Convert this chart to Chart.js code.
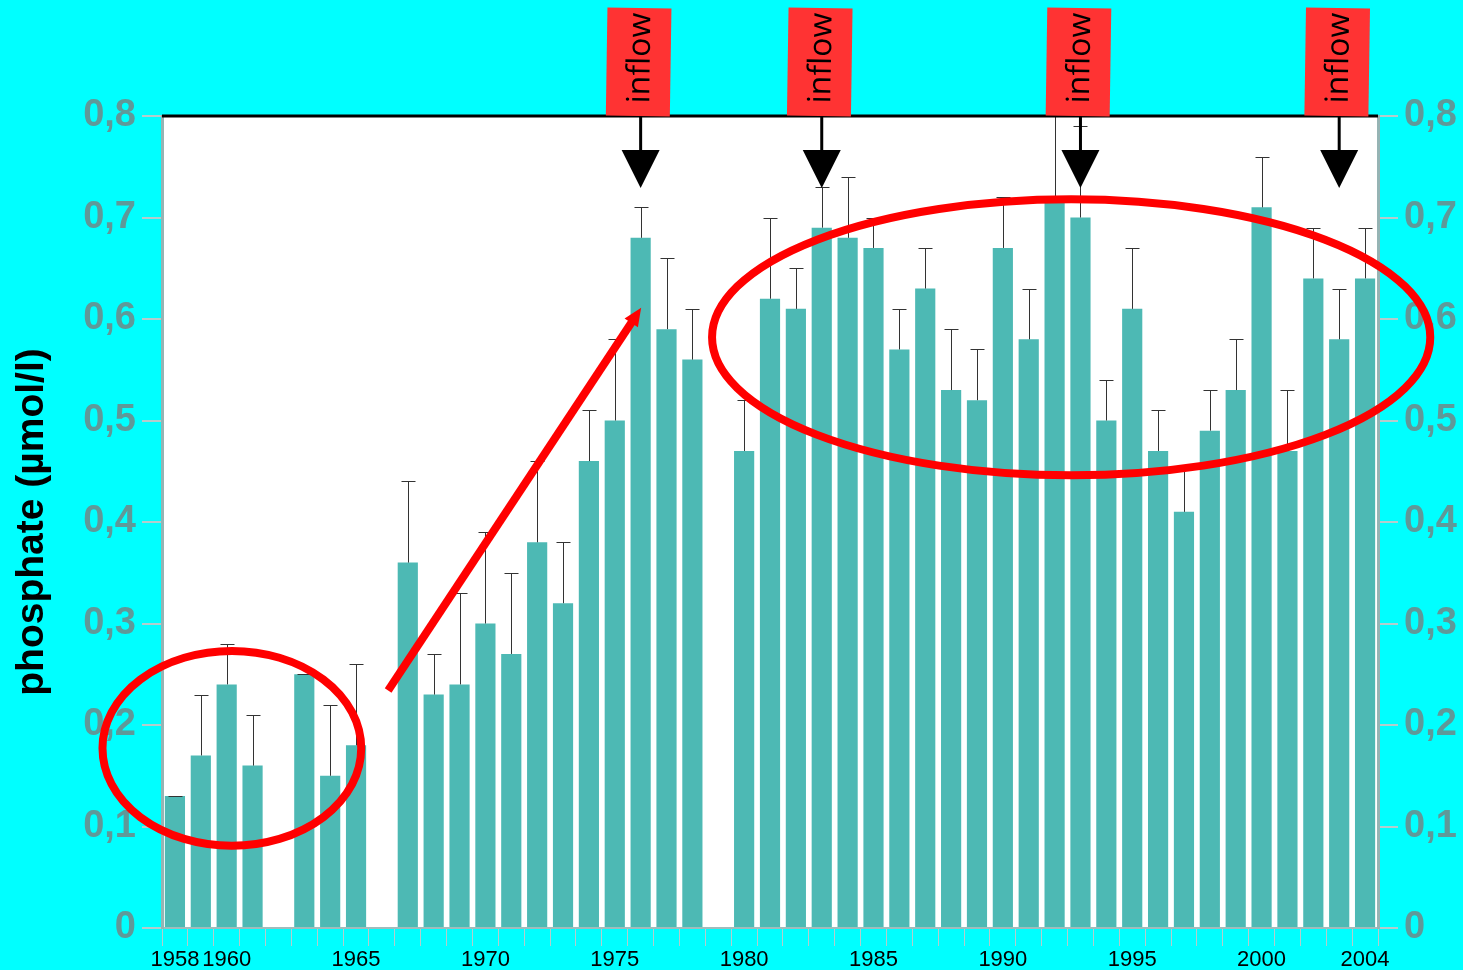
<!DOCTYPE html>
<html>
<head>
<meta charset="utf-8">
<script src="https://cdn.jsdelivr.net/npm/chart.js@4.4.0/dist/chart.umd.min.js"></script>
<style>
  html, body { margin: 0; padding: 0; background: #00ffff; }
  #wrap { width: 1463px; height: 970px; position: relative; }
</style>
</head>
<body>
<div id="wrap"><canvas id="phosphateChart"></canvas></div>
<script>
// yearly means, 1958 - 2004 (null = no data)
const years = [
  "1958", "1959", "1960", "1961", "1962", "1963", "1964", "1965", "1966", "1967",
  "1968", "1969", "1970", "1971", "1972", "1973", "1974", "1975", "1976", "1977",
  "1978", "1979", "1980", "1981", "1982", "1983", "1984", "1985", "1986", "1987",
  "1988", "1989", "1990", "1991", "1992", "1993", "1994", "1995", "1996", "1997",
  "1998", "1999", "2000", "2001", "2002", "2003", "2004",
];
const phosphate = [
  0.13, 0.17, 0.24, 0.16, null, 0.25, 0.15, 0.18, null, 0.36,
  0.23, 0.24, 0.30, 0.27, 0.38, 0.32, 0.46, 0.50, 0.68, 0.59,
  0.56, null, 0.47, 0.62, 0.61, 0.69, 0.68, 0.67, 0.57, 0.63,
  0.53, 0.52, 0.67, 0.58, 0.715, 0.70, 0.50, 0.61, 0.47, 0.41,
  0.49, 0.53, 0.71, 0.47, 0.64, 0.58, 0.64,
];
// upper end of the error bar
const errorTop = [
  0.13, 0.23, 0.28, 0.21, null, 0.25, 0.22, 0.26, null, 0.44,
  0.27, 0.33, 0.39, 0.35, 0.46, 0.38, 0.51, 0.58, 0.71, 0.66,
  0.61, null, 0.52, 0.70, 0.65, 0.73, 0.74, 0.70, 0.61, 0.67,
  0.59, 0.57, 0.72, 0.63, 0.86, 0.79, 0.54, 0.67, 0.51, 0.455,
  0.53, 0.58, 0.76, 0.53, 0.69, 0.63, 0.69,
];
const yearLabels = ["1958", "1960", "1965", "1970", "1975", "1980", "1985", "1990", "1995", "2000", "2004"];
const inflowYears = ["1976", "1983", "1993", "2003"];

const fmtTick = (v) => (v === 0 ? "0" : v.toFixed(1).replace(".", ","));

// white plot area, error bars, inflow markers, red highlights
const overlayPlugin = {
  id: "overlay",
  beforeDraw(chart) {
    const { ctx, chartArea: a } = chart;
    ctx.save();
    ctx.fillStyle = "#ffffff";
    ctx.fillRect(a.left, a.top, a.right - a.left, a.bottom - a.top);
    ctx.restore();
  },
  afterDatasetsDraw(chart) {
    const { ctx, chartArea: a } = chart;
    const xs = chart.scales.x;
    const ys = chart.scales.y;
    ctx.save();
    ctx.beginPath();
    ctx.rect(a.left, a.top, a.right - a.left, a.bottom - a.top);
    ctx.clip();
    ctx.strokeStyle = "#333333";
    ctx.lineWidth = 1;
    errorTop.forEach((e, i) => {
      if (e == null || phosphate[i] == null) return;
      const x = Math.round(xs.getPixelForValue(i)) + 0.5;
      const y0 = ys.getPixelForValue(phosphate[i]);
      const y1 = Math.round(ys.getPixelForValue(e)) + 0.5;
      ctx.beginPath();
      ctx.moveTo(x, y0);
      ctx.lineTo(x, y1);
      ctx.moveTo(x - 7, y1);
      ctx.lineTo(x + 7, y1);
      ctx.stroke();
    });
    ctx.restore();
  },
  afterDraw(chart) {
    const { ctx, chartArea: a } = chart;
    const xs = chart.scales.x;
    const ys = chart.scales.y;
    const xAt = (idx) => xs.getPixelForValue(idx);

    ctx.save();
    // top frame line
    ctx.strokeStyle = "#000000";
    ctx.lineWidth = 3;
    ctx.beginPath();
    ctx.moveTo(a.left, a.top);
    ctx.lineTo(a.right, a.top);
    ctx.stroke();

    // inflow boxes + arrows
    inflowYears.forEach((yr) => {
      const x = xAt(years.indexOf(yr));
      ctx.save();
      ctx.translate(x - 2, a.top - 54);
      ctx.rotate(0.015);
      ctx.fillStyle = "#ff3333";
      ctx.fillRect(-32, -54, 64, 108);
      ctx.rotate(-Math.PI / 2);
      ctx.fillStyle = "#000000";
      ctx.font = "32px 'Open Sans'";
      ctx.textAlign = "center";
      ctx.textBaseline = "middle";
      ctx.fillText("inflow", 4, 2);
      ctx.restore();

      ctx.strokeStyle = "#000000";
      ctx.lineWidth = 3;
      ctx.beginPath();
      ctx.moveTo(x, a.top);
      ctx.lineTo(x, a.top + 36);
      ctx.stroke();
      ctx.fillStyle = "#000000";
      ctx.beginPath();
      ctx.moveTo(x - 19, a.top + 34);
      ctx.lineTo(x + 19, a.top + 34);
      ctx.lineTo(x, a.top + 72);
      ctx.closePath();
      ctx.fill();
    });

    // red ellipses
    ctx.strokeStyle = "#ff0000";
    ctx.lineWidth = 8;
    const ring = (cIdx, cVal, rIdx, rVal) => {
      const cx = xAt(cIdx);
      const cy = ys.getPixelForValue(cVal);
      const rx = xAt(cIdx + rIdx) - cx;
      const ry = ys.getPixelForValue(cVal - rVal) - cy;
      ctx.beginPath();
      ctx.ellipse(cx, cy, rx, ry, 0, 0, Math.PI * 2);
      ctx.stroke();
    };
    ring(2.2, 0.177, 5.0, 0.096);
    ring(34.64, 0.582, 13.88, 0.136);

    // red arrow
    const x0 = xAt(8.24), y0 = ys.getPixelForValue(0.234);
    const x1 = xAt(18.02), y1 = ys.getPixelForValue(0.611);
    const ang = Math.atan2(y1 - y0, x1 - x0);
    ctx.beginPath();
    ctx.moveTo(x0, y0);
    ctx.lineTo(x1 - 10 * Math.cos(ang), y1 - 10 * Math.sin(ang));
    ctx.stroke();
    ctx.fillStyle = "#ff0000";
    ctx.beginPath();
    ctx.moveTo(x1, y1);
    ctx.lineTo(x1 - 18 * Math.cos(ang) + 8 * Math.sin(ang), y1 - 18 * Math.sin(ang) - 8 * Math.cos(ang));
    ctx.lineTo(x1 - 18 * Math.cos(ang) - 8 * Math.sin(ang), y1 - 18 * Math.sin(ang) + 8 * Math.cos(ang));
    ctx.closePath();
    ctx.fill();
    ctx.restore();
  },
};

const yTickStyle = {
  color: "#5f9999",
  font: { family: "'Liberation Sans', Arial", size: 38, weight: "bold" },
  padding: 6,
  stepSize: 0.1,
  callback: (v) => fmtTick(v),
};

new Chart(document.getElementById("phosphateChart"), {
  type: "bar",
  data: {
    labels: years,
    datasets: [
      {
        data: phosphate,
        backgroundColor: "#4db9b4",
        borderWidth: 0,
        barPercentage: 0.78,
        categoryPercentage: 1.0,
      },
    ],
  },
  options: {
    responsive: true,
    maintainAspectRatio: false,
    animation: false,
    layout: { padding: { top: 116, left: 0, right: 0, bottom: 0 } },
    plugins: {
      legend: { display: false },
      tooltip: { enabled: false },
    },
    scales: {
      x: {
        offset: true,
        grid: {
          offset: true,
          drawOnChartArea: false,
          tickLength: 18,
          color: "#b4cccc",
          lineWidth: 1,
        },
        border: { display: true, color: "#a0bcbc", width: 2 },
        ticks: {
          autoSkip: false,
          maxRotation: 0,
          minRotation: 0,
          padding: 1,
          color: "#000000",
          font: { family: "'Liberation Sans', Arial", size: 22 },
          callback: (v, i) => (yearLabels.includes(years[i]) ? years[i] : ""),
        },
        afterFit: (scale) => {
          scale.height = 42;
        },
      },
      y: {
        position: "left",
        min: 0,
        max: 0.8,
        grid: { drawOnChartArea: false, tickLength: 20, color: "#b4cccc", lineWidth: 2 },
        border: { display: true, color: "#96b4b4", width: 3 },
        ticks: yTickStyle,
        title: {
          display: true,
          text: "phosphate (µmol/l)",
          color: "#000000",
          font: { family: "'Liberation Sans', Arial", size: 39, weight: "bold" },
          padding: { top: 9, bottom: 0 },
        },
        afterFit: (scale) => {
          scale.width = 162;
        },
      },
      y2: {
        position: "right",
        min: 0,
        max: 0.8,
        grid: { drawOnChartArea: false, tickLength: 20, color: "#b4cccc", lineWidth: 2 },
        border: { display: true, color: "#96b4b4", width: 3 },
        ticks: yTickStyle,
        afterFit: (scale) => {
          scale.width = 85;
        },
      },
    },
  },
  plugins: [overlayPlugin],
});
</script>
</body>
</html>
